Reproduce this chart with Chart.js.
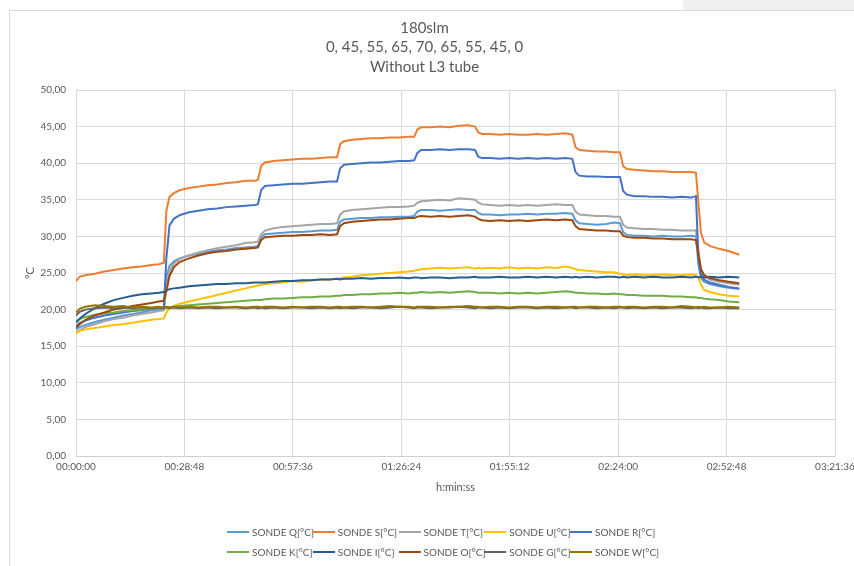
<!DOCTYPE html>
<html>
<head>
<meta charset="utf-8">
<title>180slm probe temperatures</title>
<script src="https://cdn.jsdelivr.net/npm/chart.js@4.4.1/dist/chart.umd.min.js"></script>
<style>
  html, body { margin: 0; padding: 0; background: #ffffff; width: 854px; height: 566px; overflow: hidden; }
  #tab { position: absolute; left: 683px; top: 0; width: 171px; height: 10px; background: #efefef; }
  #frame { position: absolute; left: 9px; top: 10px; width: 900px; height: 600px;
           border-left: 1px solid #d9d9d9; border-top: 1px solid #d9d9d9; }
  #wrap { position: absolute; left: 0; top: 0; width: 876px; height: 566px; }
  #legend { position: absolute; left: 227px; top: 522px; display: grid;
            grid-template-columns: repeat(5, 85.75px); font: 10px Lato, "Open Sans", sans-serif; color: #595959; }
  .item { display: flex; align-items: center; height: 20px; white-space: nowrap; }
  .swatch { width: 22px; height: 2px; margin-right: 3px; flex: none; }
</style>
</head>
<body>
<div id="tab"></div>
<div id="frame"></div>
<div id="wrap"><canvas id="chart" width="876" height="566"></canvas></div>
<div id="legend"></div>
<script>
// Elapsed time of each sample, seconds since start of run
const elapsedSec = [
  0, 60, 150, 300, 450, 600, 750, 900, 1050, 1200, 1320, 1400,
  1440, 1490, 1560, 1650,
  1800, 1950, 2100, 2250, 2400, 2550, 2700, 2850, 2900,
  2950, 3010,
  3150, 3300, 3450, 3600, 3750, 3900, 4050, 4160,
  4210, 4270,
  4400, 4550, 4700, 4850, 5000, 5150, 5300, 5390,
  5440, 5500,
  5650, 5800, 5950, 6100, 6250, 6360,
  6410, 6470,
  6600, 6750, 6900, 7050, 7200, 7350, 7500, 7650, 7800, 7910,
  7960, 8020,
  8150, 8300, 8450, 8570, 8670,
  8720, 8780,
  8900, 9050, 9200, 9350, 9500, 9650, 9800, 9880,
  9920, 9960, 10010, 10100, 10250, 10400, 10570
];

const sondeQ = [
  17.3, 17.6, 17.9, 18.3, 18.6, 18.9, 19.2, 19.4, 19.6, 19.9, 20.0, 20.1,
  24.5, 26.0, 26.6, 27.0,
  27.4, 27.6, 27.9, 28.1, 28.2, 28.4, 28.5, 28.6, 28.7,
  29.9, 30.3,
  30.4, 30.5, 30.6, 30.6, 30.7, 30.8, 30.8, 30.9,
  32.0, 32.3,
  32.4, 32.5, 32.5, 32.6, 32.6, 32.7, 32.7, 32.8,
  33.4, 33.6,
  33.6, 33.5, 33.6, 33.7, 33.6, 33.6,
  33.2, 33.0,
  33.0, 32.9, 33.0, 33.0, 33.1, 33.0, 33.1, 33.1, 33.2, 33.1,
  32.2, 31.8,
  31.7, 31.6, 31.7, 31.9, 31.8,
  30.6, 30.2,
  30.1, 30.1, 30.0, 30.1, 30.0, 30.0, 30.1, 30.0,
  26.0, 24.3, 23.8, 23.5, 23.2, 23.0, 22.8
];
const sondeS = [
  23.9, 24.5, 24.7, 24.9, 25.2, 25.4, 25.6, 25.8, 25.9, 26.1, 26.2, 26.4,
  33.5, 35.4, 35.9, 36.3,
  36.6, 36.8, 37.0, 37.1, 37.3, 37.4, 37.6, 37.6, 37.7,
  39.6, 40.1,
  40.3, 40.4, 40.5, 40.6, 40.6, 40.7, 40.8, 40.8,
  42.6, 43.0,
  43.2, 43.3, 43.4, 43.4, 43.5, 43.5, 43.6, 43.6,
  44.6, 44.9,
  44.9, 45.0, 44.9, 45.1, 45.2, 45.0,
  44.2, 44.0,
  44.0, 43.9, 44.0, 43.9, 43.9, 44.0, 43.9, 44.0, 44.1, 43.9,
  42.2, 41.8,
  41.7, 41.6, 41.6, 41.5, 41.5,
  39.6, 39.2,
  39.1, 39.0, 38.9, 38.9, 38.8, 38.8, 38.8, 38.7,
  34.5, 30.5, 29.2, 28.7, 28.3, 28.0, 27.5
];
const sondeT = [
  16.9, 17.2, 17.6, 18.0, 18.4, 18.7, 18.9, 19.2, 19.4, 19.6, 19.8, 19.9,
  23.0, 25.3, 26.3, 26.9,
  27.4, 27.8, 28.1, 28.4, 28.6, 28.8, 29.1, 29.2, 29.3,
  30.3, 30.8,
  31.1, 31.3, 31.4, 31.5, 31.6, 31.7, 31.7, 31.8,
  33.0, 33.4,
  33.6, 33.7, 33.8, 33.9, 34.0, 34.0, 34.1, 34.2,
  34.6, 34.8,
  34.9, 35.0, 34.9, 35.2, 35.1, 35.0,
  34.6, 34.4,
  34.3, 34.2, 34.3, 34.2, 34.3, 34.2, 34.3, 34.4, 34.3, 34.3,
  33.4, 33.0,
  32.9, 32.8, 32.8, 32.7, 32.7,
  31.6, 31.2,
  31.1, 31.0, 31.0, 30.9, 30.9, 30.8, 30.8, 30.8,
  28.0, 25.5, 24.6, 24.1, 23.8, 23.6, 23.4
];
const sondeU = [
  16.8, 17.1, 17.3, 17.5, 17.7, 17.9, 18.0, 18.2, 18.4, 18.6, 18.7, 18.8,
  19.6, 20.2, 20.5, 20.8,
  21.1, 21.4, 21.7, 22.0, 22.3, 22.6, 22.9, 23.2, 23.3,
  23.4, 23.5,
  23.6, 23.7, 23.9, 23.8, 24.0, 24.1, 24.1, 24.2,
  24.3, 24.4,
  24.5, 24.7, 24.8, 24.9, 25.0, 25.1, 25.2, 25.3,
  25.4, 25.5,
  25.6, 25.7, 25.6, 25.7, 25.8, 25.6,
  25.7, 25.6,
  25.7, 25.6, 25.8, 25.6, 25.7, 25.6, 25.8, 25.7, 25.9, 25.7,
  25.5, 25.4,
  25.3, 25.2, 25.1, 25.1, 24.9,
  24.8, 24.7,
  24.8, 24.7, 24.7, 24.8, 24.7, 24.7, 24.8, 24.7,
  24.4, 23.4, 22.7, 22.4, 22.1, 21.9, 21.8
];
const sondeR = [
  17.7, 18.2, 18.5, 18.9, 19.2, 19.4, 19.6, 19.8, 19.9, 20.1, 20.2, 20.3,
  27.0, 31.5, 32.4, 32.9,
  33.3, 33.5, 33.7, 33.8, 34.0, 34.1, 34.2, 34.3, 34.4,
  36.3, 36.9,
  37.0, 37.1, 37.2, 37.2, 37.3, 37.4, 37.5, 37.5,
  39.3, 39.8,
  39.9, 40.0, 40.1, 40.1, 40.2, 40.3, 40.3, 40.4,
  41.4, 41.8,
  41.8, 41.9, 41.8, 41.9, 41.9, 41.8,
  40.9, 40.7,
  40.7, 40.6, 40.7, 40.6, 40.7, 40.6, 40.7, 40.6, 40.7, 40.6,
  38.8, 38.3,
  38.2, 38.2, 38.1, 38.1, 38.1,
  36.2, 35.7,
  35.5, 35.5, 35.4, 35.4, 35.3, 35.4, 35.3, 35.5,
  27.0, 24.8, 24.1, 23.7, 23.4, 23.1, 22.9
];
const sondeK = [
  18.2, 18.7, 19.0, 19.3, 19.5, 19.6, 19.8, 19.9, 20.0, 20.1, 20.2, 20.2,
  20.3, 20.3, 20.4, 20.5,
  20.6, 20.7, 20.8, 20.9, 21.0, 21.1, 21.2, 21.3, 21.3,
  21.3, 21.4,
  21.5, 21.5, 21.6, 21.7, 21.7, 21.8, 21.8, 21.9,
  21.9, 22.0,
  22.0, 22.1, 22.1, 22.2, 22.2, 22.3, 22.2, 22.3,
  22.3, 22.4,
  22.3, 22.4, 22.3, 22.4, 22.5, 22.4,
  22.3, 22.3,
  22.3, 22.2, 22.3, 22.2, 22.3, 22.2, 22.3, 22.4, 22.5, 22.4,
  22.3, 22.3,
  22.2, 22.2, 22.1, 22.2, 22.1,
  22.1, 22.0,
  22.0, 21.9, 21.9, 21.9, 21.8, 21.8, 21.7, 21.7,
  21.6, 21.6, 21.5, 21.4, 21.3, 21.1, 21.0
];
const sondeI = [
  18.3, 18.8, 19.4, 20.2, 20.8, 21.3, 21.6, 21.9, 22.1, 22.2, 22.3, 22.4,
  22.6, 22.8, 22.9, 23.0,
  23.2, 23.3, 23.4, 23.5, 23.5, 23.6, 23.6, 23.7, 23.7,
  23.7, 23.7,
  23.8, 23.9, 23.9, 24.0, 24.0, 24.1, 24.1, 24.2,
  24.1, 24.2,
  24.2, 24.3, 24.2, 24.3, 24.3, 24.4, 24.3, 24.4,
  24.4, 24.3,
  24.4, 24.4, 24.3, 24.4, 24.4, 24.5,
  24.4, 24.4,
  24.4, 24.5, 24.4, 24.4, 24.5, 24.4, 24.5, 24.4, 24.5, 24.4,
  24.5, 24.4,
  24.5, 24.4, 24.5, 24.5, 24.4,
  24.5, 24.4,
  24.5, 24.4, 24.5, 24.4, 24.4, 24.5, 24.4, 24.5,
  24.4, 24.5, 24.4, 24.5, 24.4, 24.5, 24.4
];
const sondeO = [
  17.5, 18.0, 18.6, 19.2, 19.6, 20.0, 20.2, 20.5, 20.7, 20.9, 21.1, 21.2,
  22.5, 24.6, 25.8, 26.5,
  27.0, 27.4, 27.7, 27.9, 28.0, 28.2, 28.3, 28.4, 28.5,
  29.5, 29.9,
  30.0, 30.1, 30.1, 30.2, 30.2, 30.3, 30.2, 30.3,
  31.4, 31.8,
  32.0, 32.1, 32.2, 32.3, 32.3, 32.4, 32.5, 32.5,
  32.7, 32.8,
  32.7, 32.8, 32.7, 32.8, 32.9, 32.7,
  32.4, 32.2,
  32.1, 32.2, 32.1, 32.2, 32.1, 32.2, 32.3, 32.2, 32.3, 32.2,
  31.4, 31.0,
  30.9, 30.8, 30.8, 30.7, 30.7,
  30.1, 29.9,
  29.8, 29.8, 29.7, 29.7, 29.6, 29.6, 29.6, 29.5,
  27.5, 25.5, 24.7, 24.3, 24.0, 23.8, 23.6
];
const sondeG = [
  19.2, 19.7, 20.0, 20.2, 20.3, 20.2, 20.3, 20.2, 20.3, 20.2, 20.3, 20.2,
  20.3, 20.2, 20.3, 20.2,
  20.3, 20.2, 20.3, 20.2, 20.3, 20.3, 20.2, 20.3, 20.2,
  20.3, 20.2,
  20.3, 20.2, 20.3, 20.3, 20.2, 20.3, 20.2, 20.3,
  20.2, 20.3,
  20.2, 20.3, 20.3, 20.2, 20.3, 20.4, 20.3, 20.2,
  20.3, 20.3,
  20.2, 20.3, 20.3, 20.4, 20.3, 20.2,
  20.3, 20.3,
  20.2, 20.3, 20.2, 20.3, 20.3, 20.2, 20.3, 20.2, 20.3, 20.3,
  20.2, 20.3,
  20.3, 20.2, 20.3, 20.2, 20.3,
  20.3, 20.2,
  20.3, 20.2, 20.3, 20.2, 20.3, 20.3, 20.2, 20.3,
  20.2, 20.3, 20.2, 20.2, 20.3, 20.2, 20.2
];
const sondeW = [
  19.6, 20.1, 20.4, 20.6, 20.5, 20.4, 20.5, 20.3, 20.4, 20.3, 20.4, 20.3,
  20.4, 20.3, 20.4, 20.3,
  20.4, 20.3, 20.4, 20.4, 20.3, 20.4, 20.3, 20.4, 20.4,
  20.3, 20.4,
  20.4, 20.3, 20.4, 20.3, 20.4, 20.4, 20.3, 20.4,
  20.4, 20.3,
  20.4, 20.4, 20.3, 20.4, 20.5, 20.4, 20.4, 20.3,
  20.4, 20.4,
  20.4, 20.3, 20.4, 20.4, 20.5, 20.4,
  20.4, 20.3,
  20.4, 20.4, 20.3, 20.4, 20.4, 20.3, 20.4, 20.4, 20.3, 20.4,
  20.4, 20.3,
  20.4, 20.4, 20.3, 20.4, 20.4,
  20.3, 20.4,
  20.4, 20.3, 20.4, 20.4, 20.3, 20.5, 20.4, 20.3,
  20.4, 20.3, 20.4, 20.3, 20.3, 20.4, 20.3
];

const seriesNames = ['SONDE Q[°C]', 'SONDE S[°C]', 'SONDE T[°C]', 'SONDE U[°C]', 'SONDE R[°C]',
                     'SONDE K[°C]', 'SONDE I[°C]', 'SONDE O[°C]', 'SONDE G[°C]', 'SONDE W[°C]'];
const seriesValues = [sondeQ, sondeS, sondeT, sondeU, sondeR, sondeK, sondeI, sondeO, sondeG, sondeW];
const seriesColors = ['#5b9bd5', '#ed7d31', '#a5a5a5', '#ffc000', '#4472c4',
                      '#70ad47', '#255e91', '#9e480e', '#636363', '#997300'];

const titleLines = ['180slm', '0, 45, 55, 65, 70, 65, 55, 45, 0', 'Without L3 tube'];
const timeTickSec = [0, 1728, 3456, 5184, 6912, 8640, 10368, 12096];
const timeTickLabels = ['00:00:00', '00:28:48', '00:57:36', '01:26:24', '01:55:12', '02:24:00', '02:52:48', '03:21:36'];

const FONT = 'Lato, "Open Sans", sans-serif';
const TEXT = '#595959';
const GRID = '#d9d9d9';

const datasets = seriesNames.map((name, i) => ({
  label: name,
  data: elapsedSec.map((t, k) => ({ x: t, y: seriesValues[i][k] })),
  borderColor: seriesColors[i],
  backgroundColor: seriesColors[i],
  borderWidth: 2,
  pointRadius: 0,
  tension: 0,
  fill: false,
  // later series are painted over earlier ones
  order: seriesNames.length - i
}));

new Chart(document.getElementById('chart'), {
  type: 'line',
  data: { datasets },
  options: {
    responsive: false,
    animation: false,
    layout: { padding: { left: 14, right: 41, top: 0, bottom: 66 } },
    plugins: {
      legend: { display: false },
      tooltip: { enabled: false },
      title: {
        display: true,
        text: titleLines,
        color: TEXT,
        font: { family: FONT, size: 15, weight: 'normal', lineHeight: 1.3 },
        padding: { top: 18.3, bottom: 13.2 }
      }
    },
    scales: {
      x: {
        type: 'linear',
        min: 0,
        max: 12096,
        afterBuildTicks: scale => { scale.ticks = timeTickSec.map(v => ({ value: v })); },
        afterFit: scale => { scale.height = 44; },
        ticks: {
          autoSkip: false,
          maxRotation: 0,
          padding: 5,
          color: TEXT,
          font: { family: FONT, size: 10 },
          callback: v => timeTickLabels[timeTickSec.indexOf(v)]
        },
        grid: { color: GRID, drawTicks: false },
        border: { color: '#cfcfcf' },
        title: {
          display: true,
          text: 'h:min:ss',
          color: TEXT,
          font: { family: FONT, size: 11 },
          padding: { top: 0, bottom: 6.4 }
        }
      },
      y: {
        min: 0,
        max: 50,
        afterFit: scale => { scale.width = 62; },
        ticks: {
          stepSize: 5,
          padding: 10,
          color: TEXT,
          font: { family: FONT, size: 10 },
          callback: v => v.toFixed(2).replace('.', ',')
        },
        grid: { color: GRID, drawTicks: false },
        border: { color: GRID },
        title: {
          display: true,
          text: '°C',
          color: TEXT,
          font: { family: FONT, size: 11 },
          padding: { top: 9.4, bottom: 0 }
        }
      }
    }
  }
});

// Legend laid out as a fixed grid of five columns
const legend = document.getElementById('legend');
seriesNames.forEach((name, i) => {
  const item = document.createElement('div');
  item.className = 'item';
  const sw = document.createElement('span');
  sw.className = 'swatch';
  sw.style.background = seriesColors[i];
  const lbl = document.createElement('span');
  lbl.textContent = name;
  item.appendChild(sw);
  item.appendChild(lbl);
  legend.appendChild(item);
});
</script>
</body>
</html>
